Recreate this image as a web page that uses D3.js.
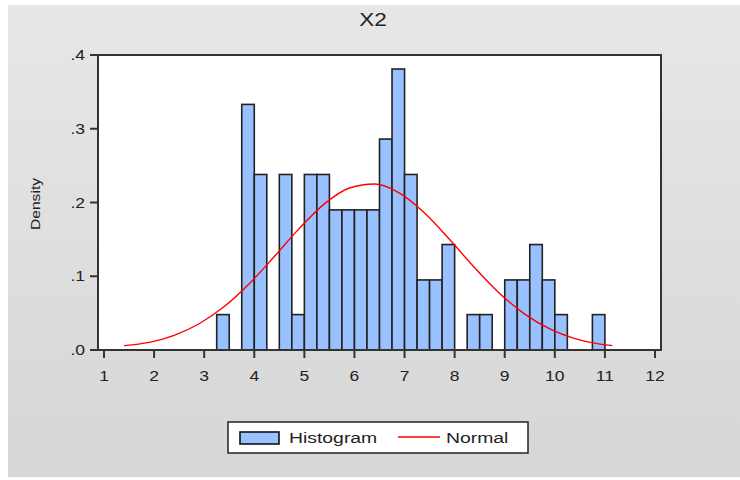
<!DOCTYPE html>
<html>
<head>
<meta charset="utf-8">
<script src="https://cdn.jsdelivr.net/npm/d3@7"></script>
<style>
  html, body { margin: 0; padding: 0; background: #fff; }
  svg { display: block; font-family: "Liberation Sans", Arial, sans-serif; }
</style>
</head>
<body>
<svg id="viz" width="740" height="480"></svg>
<script>
  const title = 'X2';
  const yLabel = 'Density';
  const binWidth = 0.25;
  const binStarts = [3.25, 3.75, 4.0, 4.5, 4.75, 5.0, 5.25, 5.5, 5.75, 6.0, 6.25, 6.5, 6.75,
    7.0, 7.25, 7.5, 7.75, 8.25, 8.5, 9.0, 9.25, 9.5, 9.75, 10.0, 10.75];
  const densities = [0.048, 0.333, 0.238, 0.238, 0.048, 0.238, 0.238, 0.190, 0.190, 0.190, 0.190, 0.286, 0.381,
    0.238, 0.095, 0.095, 0.143, 0.048, 0.048, 0.095, 0.095, 0.143, 0.095, 0.048, 0.048];
  // fitted normal curve
  const normalX = [1.4, 1.9, 2.4, 2.9, 3.4, 3.9, 4.4, 4.9, 5.4, 5.9, 6.4, 6.9, 7.4, 7.9,
    8.4, 8.9, 9.4, 9.9, 10.4, 10.9, 11.15];
  const normalY = [0.006, 0.0103, 0.0199, 0.0356, 0.0589, 0.0899, 0.1267, 0.1649, 0.1981, 0.2197, 0.225,
    0.2128, 0.1858, 0.1498, 0.1115, 0.0766, 0.0487, 0.0285, 0.0154, 0.0080, 0.006];
  const xTicks = d3.range(1, 13);
  const yTicks = [0, 0.1, 0.2, 0.3, 0.4];
  const yTickLabels = ['.0', '.1', '.2', '.3', '.4'];
  const legendItems = ['Histogram', 'Normal'];

  const STRETCH = 1.25; // text in the source is drawn wide
  const svg = d3.select('#viz');

  const defs = svg.append('defs');
  const grad = defs.append('linearGradient').attr('id', 'bg').attr('x1', 0).attr('y1', 0).attr('x2', 0).attr('y2', 1);
  grad.append('stop').attr('offset', '0%').attr('stop-color', '#e7e7e7');
  grad.append('stop').attr('offset', '100%').attr('stop-color', '#d6d6d6');

  svg.append('rect').attr('x', 8).attr('y', 5).attr('width', 732).attr('height', 472).attr('fill', 'url(#bg)');

  const frame = { left: 98, top: 55, right: 661, bottom: 350 };
  const x = d3.scaleLinear().domain([1, 12]).range([104, 655]);
  const y = d3.scaleLinear().domain([0, 0.4]).range([frame.bottom, frame.top]);

  function label(g, text, tx, ty, anchor, size, rot) {
    return g.append('text')
      .attr('transform', `translate(${tx},${ty})` + (rot ? ` rotate(${rot})` : '') + ` scale(${STRETCH},1)`)
      .attr('text-anchor', anchor)
      .attr('font-size', size)
      .attr('fill', '#222')
      .text(text);
  }

  svg.append('rect')
    .attr('x', frame.left).attr('y', frame.top)
    .attr('width', frame.right - frame.left).attr('height', frame.bottom - frame.top)
    .attr('fill', '#fff');

  // bars
  svg.append('g').selectAll('rect')
    .data(binStarts.map((b, i) => ({ b, d: densities[i] })))
    .join('rect')
    .attr('x', (d) => x(d.b))
    .attr('y', (d) => y(d.d))
    .attr('width', (d) => x(d.b + binWidth) - x(d.b))
    .attr('height', (d) => y(0) - y(d.d))
    .attr('fill', '#99c0ff')
    .attr('stroke', '#222')
    .attr('stroke-width', 1.6);

  // normal curve
  const line = d3.line().x((d) => x(d[0])).y((d) => y(d[1])).curve(d3.curveMonotoneX);
  svg.append('path')
    .attr('d', line(normalX.map((v, i) => [v, normalY[i]])))
    .attr('fill', 'none')
    .attr('stroke', '#ff0000')
    .attr('stroke-width', 1.4);

  // frame
  svg.append('rect')
    .attr('x', frame.left).attr('y', frame.top)
    .attr('width', frame.right - frame.left).attr('height', frame.bottom - frame.top)
    .attr('fill', 'none').attr('stroke', '#333').attr('stroke-width', 2);

  // x axis
  const gx = svg.append('g');
  gx.selectAll('line').data(xTicks).join('line')
    .attr('x1', (d) => x(d)).attr('x2', (d) => x(d))
    .attr('y1', frame.bottom).attr('y2', frame.bottom + 8)
    .attr('stroke', '#333').attr('stroke-width', 2);
  xTicks.forEach((t) => label(gx, String(t), x(t), 381, 'middle', 14));

  // y axis
  const gy = svg.append('g');
  gy.selectAll('line').data(yTicks).join('line')
    .attr('x1', frame.left - 8).attr('x2', frame.left)
    .attr('y1', (d) => y(d)).attr('y2', (d) => y(d))
    .attr('stroke', '#333').attr('stroke-width', 2);
  yTicks.forEach((t, i) => label(gy, yTickLabels[i], 85, y(t) + 5, 'end', 14));

  label(svg, yLabel, 40, 204, 'middle', 12.5, -90);
  label(svg, title, 373, 26, 'middle', 18);

  // legend
  const lg = svg.append('g');
  lg.append('rect').attr('x', 228).attr('y', 422).attr('width', 300).attr('height', 31)
    .attr('fill', '#fff').attr('stroke', '#222').attr('stroke-width', 1.5);
  lg.append('rect').attr('x', 240).attr('y', 432).attr('width', 39).attr('height', 12)
    .attr('fill', '#99c0ff').attr('stroke', '#111').attr('stroke-width', 1.6);
  label(lg, legendItems[0], 289, 443, 'start', 15.5);
  lg.append('line').attr('x1', 398).attr('x2', 440).attr('y1', 437).attr('y2', 437)
    .attr('stroke', '#ff0000').attr('stroke-width', 1.4);
  label(lg, legendItems[1], 446, 443, 'start', 15.5);
</script>
</body>
</html>
